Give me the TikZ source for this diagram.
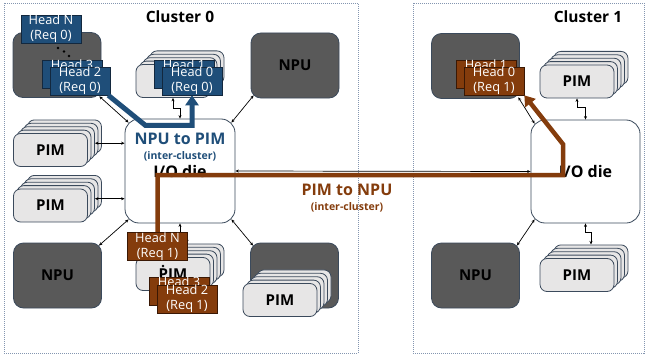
\documentclass[tikz,border=0pt]{standalone}
\usepackage{fontspec}
\setmainfont{Open Sans}
\usetikzlibrary{arrows.meta,calc}
\definecolor{blueC}{HTML}{1F4E79}
\definecolor{blueE}{HTML}{13283E}
\definecolor{brownC}{HTML}{843C0C}
\definecolor{brownE}{HTML}{3A1804}
\definecolor{npuF}{HTML}{595959}
\definecolor{pimF}{HTML}{E7E6E6}
\definecolor{edgeC}{HTML}{3B4A5C}
\definecolor{clusterC}{HTML}{8496B0}
\tikzset{
  npubox/.style={draw=edgeC, fill=npuF, line width=0.8pt, rounded corners=10pt,
    minimum width=88pt, minimum height=65pt, inner sep=0pt,
    font=\fontsize{15}{18}\selectfont\bfseries},
  pimbox/.style={draw=edgeC, fill=pimF, line width=0.8pt, rounded corners=7pt,
    minimum width=74pt, minimum height=33pt, inner sep=0pt,
    font=\fontsize{15}{18}\selectfont\bfseries},
  iodie/.style={draw=edgeC, fill=white, line width=0.8pt, rounded corners=14pt,
    minimum width=110pt, minimum height=104pt, inner sep=0pt,
    font=\fontsize{16}{19}\selectfont\bfseries},
  headbox/.style={minimum width=60pt, minimum height=28pt, inner sep=0pt,
    align=center, text=white, line width=0.6pt,
    font=\fontsize{12.8}{14.8}\selectfont},
  headB/.style={headbox, draw=blueE, fill=blueC},
  headR/.style={headbox, draw=brownE, fill=brownC},
  cluster/.style={draw=clusterC, line width=0.8pt, dash pattern=on 1pt off 1pt},
  title/.style={font=\fontsize{15.5}{18}\selectfont\bfseries, inner sep=0pt},
  biglabel/.style={font=\fontsize{16}{19}\selectfont\bfseries, inner sep=0pt},
  smalllabel/.style={font=\fontsize{10.5}{13}\selectfont\bfseries, inner sep=0pt},
  link/.style={line width=0.7pt, draw=black,
    {Stealth[length=3.5pt,width=3pt]}-{Stealth[length=3.5pt,width=3pt]}},
  blueflow/.style={line width=5pt, draw=blueC, -{Triangle[length=10pt,width=13pt]}},
  brownflow/.style={line width=4.5pt, draw=brownC, -{Triangle[length=10pt,width=13pt]}},
  dotmark/.style={circle, fill=black, inner sep=0pt, minimum size=2.6pt}
}
\newcommand\pimstack[3]{%
  \foreach \k in {4,3,2,1}{\node[pimbox] (#1-\k) at (#2+3.5*\k,#3-3.4*\k) {};}
  \node[pimbox] (#1) at (#2,#3) {PIM};}
\begin{document}
\begin{tikzpicture}[x=1pt,y=-1pt]
\useasboundingbox (0,0) rectangle (647,361);
% clusters
\draw[cluster] (4,3) rectangle (358,353);
\draw[cluster] (413,3) rectangle (644,353);
\node[title] (t0) at (180,17) {Cluster 0};
\node[title] (t1) at (588,17) {Cluster 1};

% Cluster 0 components
\node[npubox] (npuTL) at (57,65) {};
\node[npubox] (npuTR) at (295,65.5) {NPU};
\node[npubox] (npuBL) at (57.5,275.5) {NPU};
\node[npubox] (npuBR) at (294.5,275.5) {};
\pimstack{pimL1}{50.5}{150}
\pimstack{pimL2}{50.5}{205.5}
\pimstack{pimT}{173}{81}
\pimstack{pimB}{173}{274}
\pimstack{pimBR}{280}{300}
\node[iodie] (io0) at (180,171) {I/O die};
\node[biglabel, text=blueC] (n2p) at (180,139) {NPU to PIM};
\node[smalllabel, text=blueC] (n2pi) at (180,156) {(inter-cluster)};

% Cluster 1 components
\node[npubox] (npuT1) at (475.5,66) {};
\node[npubox] (npuB1) at (475.5,275.5) {NPU};
\pimstack{pimT1}{577}{81.5}
\pimstack{pimB1}{577}{275}
\node[iodie, minimum width=109pt, minimum height=103pt] (io1) at (585.5,171.5) {I/O die};

% labels
\node[biglabel, text=brownC] (p2n) at (347,190) {PIM to NPU};
\node[smalllabel, text=brownC] (p2ni) at (347,207) {(inter-cluster)};

% thin links
\draw[link] (pimL1-2.east) -- (pimL1-2.east -| io0.west);
\draw[link] (pimL2-2.east) -- (pimL2-2.east -| io0.west);
\draw[link] ($(npuTR.south west)+(3,-3)$) -- ($(io0.north east)+(-4,4)$);
\draw[link] ($(npuBL.north east)+(-3,3)$) -- ($(io0.south west)+(4,-4)$);
\draw[link] ($(npuBR.north west)+(3,3)$) -- ($(io0.south east)+(-4,-4)$);
\draw[link] (pimT.south) -- ++(0,10) -| (io0.north);
\draw[link] (io0.south) -- ++(0,10) -| (pimB-4.north);
\draw[link] (io0.east) -- (io1.west);
\draw[link] (pimT1.south) -- ++(0,9) -| (io1.north);
\draw[link] (io1.south) -- ++(0,9) -| (pimB1-4.north);
\draw[link] ($(npuB1.north east)+(-3,3)$) -- ($(io1.south west)+(4,-4)$);

% dots
\node[dotmark] (d1) at (58,48) {};
\node[dotmark] (d2) at (64,51.5) {};
\node[dotmark] (d3) at (69,56) {};
\node[dotmark] (d4) at (163,266) {};

% heads, request 0 (blue)
\node[headB] (hbN) at (51,29) {Head N\\(Req 0)};
\node[headB] (hb3) at (72,74) {Head 3\\(Req 0)};
\node[headB] (hb2) at (80,81) {Head 2\\(Req 0)};
\node[headB] (hb1) at (184,74) {Head 1\\(Req 0)};
\node[headB] (hb0) at (192,81) {Head 0\\(Req 0)};
% heads, request 1 (brown)
\node[headR] (hrN) at (157.5,246.5) {Head N\\(Req 1)};
\node[headR] (hr3) at (179,291) {Head 3\\(Req 1)};
\node[headR] (hr2) at (187,299) {Head 2\\(Req 1)};
\node[headR] (hr1) at (486,74) {Head 1\\(Req 1)};
\node[headR] (hr0) at (494,81) {Head 0\\(Req 1)};

% links touching heads
\draw[link] ($(hb2.south east)+(-11,1)$) -- ($(io0.north west)+(4,4)$);
\draw[link] ($(hr0.south east)+(-6,2)$) -- ($(io1.north west)+(4,4)$);

% flows
\draw[blueflow] ($(hb2.south east)+(-2,0)$) -- ++(37,30) -| (hb0.south);
\draw[brownflow] (hrN.north) -- ++(0,-57) -- ++(405.5,0) -- ++(0,-31) -- (hr0.south east);
\end{tikzpicture}
\end{document}
